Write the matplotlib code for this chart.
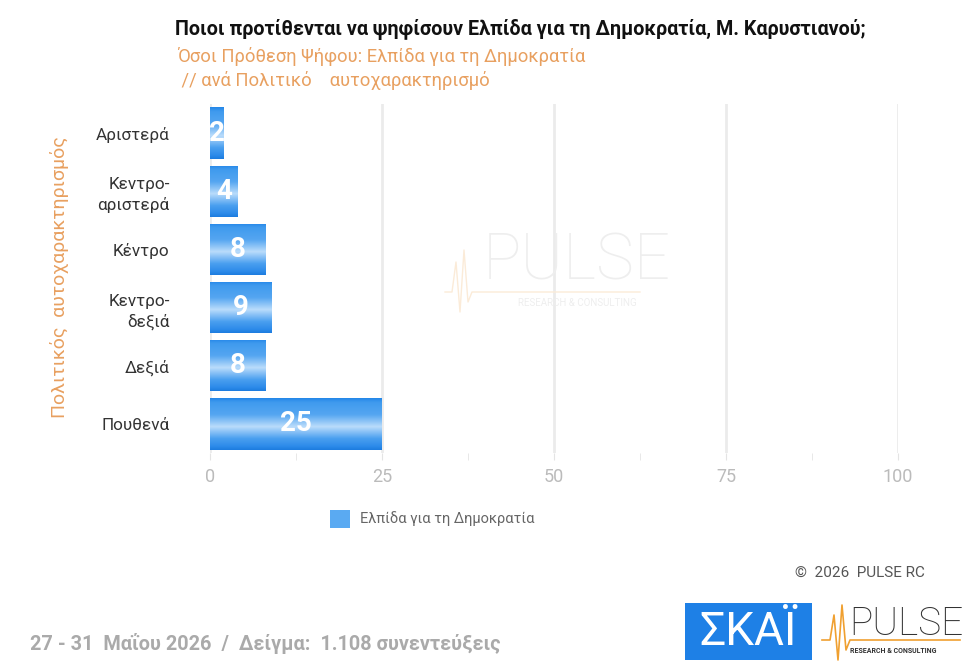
import numpy as np
import matplotlib
matplotlib.use("Agg")
import matplotlib.pyplot as plt
from matplotlib.colors import LinearSegmentedColormap
from matplotlib.patches import Rectangle
from matplotlib import font_manager as fm

categories = ["Αριστερά", "Κεντρο-\nαριστερά", "Κέντρο", "Κεντρο-\nδεξιά", "Δεξιά", "Πουθενά"]
values = [2, 4, 8, 9, 8, 25]
series_name = "Ελπίδα για τη Δημοκρατία"
x_ticks = [0, 25, 50, 75, 100]

title = "Ποιοι προτίθενται να ψηφίσουν Ελπίδα για τη Δημοκρατία, Μ. Καρυστιανού;"
subtitle1 = "Όσοι Πρόθεση Ψήφου: Ελπίδα για τη Δημοκρατία"
subtitle2 = " // ανά Πολιτικό    αυτοχαρακτηρισμό"
ylabel = "Πολιτικός  αυτοχαρακτηρισμός"
footer = "27 - 31  Μαΐου 2026  /  Δείγμα:  1.108 συνεντεύξεις"
copyright_txt = "©  2026  PULSE RC"

names = {f.name for f in fm.fontManager.ttflist}
REG = "Roboto" if "Roboto" in names else "DejaVu Sans"
COND = REG

W, H = 964, 667
fig = plt.figure(figsize=(W / 100, H / 100), dpi=100)
fig.patch.set_facecolor("white")

def fx(px):
    return px / W

def fy(py):
    return 1 - py / H

ax = fig.add_axes([fx(210), fy(453), fx(898) - fx(210), fy(104) - fy(453)])
ax.set_facecolor("white")

ypos = np.arange(len(categories))
bh = 0.88
bars = ax.barh(ypos, values, height=bh, facecolor="none", edgecolor="none", zorder=3)

cmap = LinearSegmentedColormap.from_list(
    "barg",
    [(0.0, "#2386E8"), (0.08, "#3F9AEE"), (0.32, "#55A6F1"), (0.55, "#BADCFB"),
     (0.78, "#4A9FEF"), (0.92, "#2F8CEA"), (1.0, "#1C7CDF")],
)
grad = np.linspace(0, 1, 256).reshape(-1, 1)
for b, v in zip(bars, values):
    x0, y0 = b.get_x(), b.get_y()
    w, h = b.get_width(), b.get_height()
    im = ax.imshow(grad, extent=[x0, x0 + w, y0 + h, y0], aspect="auto",
                   cmap=cmap, origin="upper", zorder=3, interpolation="bilinear")
    im.set_clip_path(b)
    ax.text(x0 + w / 2, y0 + h / 2, str(v), ha="center", va="center",
            color="white", fontsize=20, fontweight="bold", family=COND, zorder=5)

ax.set_xlim(0, 100)
ax.set_ylim(len(categories) - 0.5, -0.5)
ax.set_yticks(ypos)
ax.set_yticklabels(categories, fontsize=12.3, color="#333333", family=REG, linespacing=1.4)
ax.set_xticks(x_ticks)
ax.set_xticklabels([str(t) for t in x_ticks], fontsize=13, color="#BBBBBB", family=COND)
ax.set_xticks(np.arange(0, 101, 12.5), minor=True)
ax.tick_params(axis="y", length=0, pad=29)
ax.tick_params(axis="x", which="both", length=5, color="#E4E4E4", pad=6)
for s in ax.spines.values():
    s.set_visible(False)
ax.grid(axis="x", color="#EBEBEB", linewidth=2.0, zorder=0)
ax.set_axisbelow(True)

# watermark
fig.text(fx(577), fy(262), "PULSE", ha="center", va="center", fontsize=46,
         color="#EEEEEE", family=REG, fontweight="light", zorder=1)
fig.text(fx(577), fy(303), "RESEARCH & CONSULTING", ha="center", va="center", fontsize=7,
         color="#EEEEEE", family=REG, zorder=1)
wx = np.array([445, 452, 456, 460, 464, 468, 472, 480, 640])
wy = np.array([292, 292, 262, 312, 250, 302, 292, 292, 292])
fig.add_artist(plt.Line2D(fx(wx), fy(wy), color="#FBEBD8", linewidth=1.0, zorder=1))

# titles
fig.text(fx(175), fy(30), title, ha="left", va="center", fontsize=14.2,
         fontweight="bold", color="#111111", family=COND)
fig.text(fx(177), fy(57), subtitle1, ha="left", va="center", fontsize=13.2,
         color="#E8A060", family=COND)
fig.text(fx(177), fy(80), subtitle2, ha="left", va="center", fontsize=13.2,
         color="#E8A060", family=COND)
fig.text(fx(60), fy(277), ylabel, ha="center", va="center", rotation=90,
         fontsize=14, color="#E8A060", family=REG)

# legend
fig.add_artist(Rectangle((fx(330), fy(528)), fx(20), fy(510) - fy(528),
                         transform=fig.transFigure, facecolor="#5AAAF2", edgecolor="none"))
fig.text(fx(360), fy(519), series_name, ha="left", va="center", fontsize=10.5,
         color="#666666", family=REG)

# footer
fig.text(fx(795), fy(573), copyright_txt, ha="left", va="center", fontsize=11,
         color="#555555", family=COND)
fig.text(fx(30), fy(643), footer, ha="left", va="center", fontsize=14.3,
         color="#AAAAAA", family=COND, fontweight="bold")

# SKAI logo
fig.add_artist(Rectangle((fx(685), fy(660)), fx(127), fy(603) - fy(660),
                         transform=fig.transFigure, facecolor="#1E80E6", edgecolor="none"))
fig.text(fx(748), fy(632), "ΣΚΑΪ", ha="center", va="center", fontsize=33,
         color="white", family=REG)

# PULSE logo
fig.text(fx(849), fy(624), "PULSE", ha="left", va="center", fontsize=28,
         color="#333333", family=REG, fontweight="light")
fig.text(fx(850), fy(651), "RESEARCH & CONSULTING", ha="left", va="center", fontsize=5,
         color="#333333", family=REG, fontweight="bold")
lx = np.array([822, 830, 834, 838, 842, 846, 850, 960])
ly = np.array([640, 640, 615, 660, 605, 650, 640, 640])
fig.add_artist(plt.Line2D(fx(lx), fy(ly), color="#F0A030", linewidth=1.2))

fig.savefig("out.png", dpi=100, facecolor="white")
